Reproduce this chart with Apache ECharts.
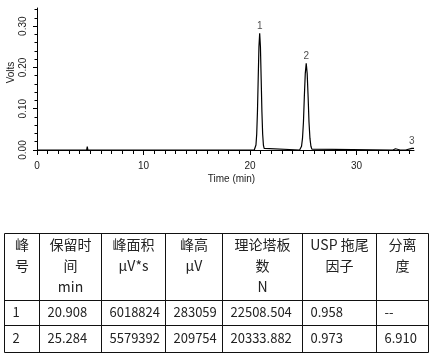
<!DOCTYPE html>
<html><head><meta charset="utf-8">
<script src="https://cdn.jsdelivr.net/npm/echarts@6/dist/echarts.min.js"></script>
<style>html,body{margin:0;padding:0;background:#fff}#c{width:433px;height:358px}</style>
</head><body><div id="c"></div>
<script>
// ---- chromatogram data ----
const traceTime = [0, 2.78, 2.85, 2.92, 4.66, 4.72, 4.78, 9.64, 9.7, 9.76,
  20.4, 20.49, 20.56, 20.63, 20.70, 20.77, 20.84, 20.91, 20.98, 21.05, 21.12, 21.19, 21.26, 21.33, 21.42,
  24.66, 24.75, 24.84, 24.93, 25.02, 25.1, 25.19, 25.28, 25.37, 25.46, 25.54, 25.63, 25.72, 25.81, 25.92,
  33.42, 33.5, 33.58, 33.66, 33.74, 33.82, 34.1, 34.16, 34.22, 34.62, 34.8, 35.2, 35.4];
const traceVolts = [0, 0, 0.002, 0, 0, 0.008, 0, 0, 0.003, 0,
  0, 0.003, 0.012, 0.038, 0.092, 0.172, 0.250, 0.283, 0.250, 0.172, 0.092, 0.038, 0.012, 0.004, 0,
  0, 0.002, 0.009, 0.028, 0.068, 0.127, 0.185, 0.210, 0.185, 0.127, 0.068, 0.028, 0.009, 0.002, 0,
  0, 0.004, 0, 0.003, 0, 0, 0, 0.002, 0, 0, 0.003, 0.004, 0.004];
const peakNames = ['1', '2', '3'];
const peakTimes = [20.91, 25.28, 35.2];
const peakVolts = [0.283, 0.210, 0.004];

const xMajorTicks = [0, 10, 20, 30];
const xMinorTicks = [1,2,3,4,5,6,7,8,9,11,12,13,14,15,16,17,18,19,21,22,23,24,25,26,27,28,29,31,32,33,34,35];
const yMajorTicks = [0, 0.1, 0.2, 0.3];
const yMinorTicks = [0.02,0.04,0.06,0.08,0.12,0.14,0.16,0.18,0.22,0.24,0.26,0.28,0.32,0.34];
const xMax = 35.4;
const yMax = 0.344;

// ---- table data ----
const tableHeaders = [['峰','号'], ['保留时','间','min'], ['峰面积','µV*s'], ['峰高','µV'], ['理论塔板','数','N'], ['USP 拖尾','因子'], ['分离','度']];
const colPeakNo = ['1', '2'];
const colRetention = ['20.908', '25.284'];
const colArea = ['6018824', '5579392'];
const colHeight = ['283059', '209754'];
const colPlates = ['22508.504', '20333.882'];
const colTailing = ['0.958', '0.973'];
const colResolution = ['--', '6.910'];

// ---- layout ----
const colX = [4.5, 39.5, 101.5, 165.5, 222.5, 302.5, 376.5, 428.5];
const rowY = [233.5, 300.5, 325.5, 352.5];
const rowCenters = [312.5, 338];
const cjk = '"Noto Sans CJK SC", "Noto Sans", sans-serif';
const lat = '"Liberation Sans", Arial, sans-serif';

const graphics = [];
rowY.forEach(y => graphics.push({type:'line', silent:true, shape:{x1:colX[0], y1:y, x2:colX[colX.length-1], y2:y}, style:{stroke:'#111', lineWidth:1}}));
colX.forEach(x => graphics.push({type:'line', silent:true, shape:{x1:x, y1:rowY[0], x2:x, y2:rowY[rowY.length-1]}, style:{stroke:'#111', lineWidth:1}}));
tableHeaders.forEach((h, i) => graphics.push({type:'text', silent:true,
  style:{text:h.join('\n'), x:(colX[i]+colX[i+1])/2, y:234.5, align:'center', verticalAlign:'top', textAlign:'center', textVerticalAlign:'top',
    lineHeight:21, font:'14px ' + cjk, fill:'#222'}}));
const cols = [colPeakNo, colRetention, colArea, colHeight, colPlates, colTailing, colResolution];
cols.forEach((col, c) => col.forEach((v, r) => graphics.push({type:'text', silent:true,
  style:{text:v, x:colX[c]+8, y:rowCenters[r], align:'left', verticalAlign:'middle', textAlign:'left', textVerticalAlign:'middle',
    font:'13px ' + cjk, fill:'#222'}})));

const chart = echarts.init(document.getElementById('c'), null, {renderer:'canvas'});
chart.setOption({
  animation: false,
  backgroundColor: '#fff',
  grid: {left: 37, top: 8, width: 377, height: 142, outerBoundsMode: 'none', containLabel: false},
  xAxis: [
    {type:'value', min:0, max:xMax, position:'bottom',
     axisLine:{lineStyle:{color:'#000', width:1}},
     axisTick:{customValues:xMajorTicks, length:5, lineStyle:{color:'#000'}},
     axisLabel:{customValues:xMajorTicks, margin:11, fontSize:10, color:'#222', fontFamily:lat},
     splitLine:{show:false},
     name:'Time (min)', nameLocation:'middle', nameGap:24, nameMoveOverlap:false,
     nameTextStyle:{fontSize:10, color:'#222', fontFamily:lat, padding:[0,0,0,12]}},
    {type:'value', min:0, max:xMax, position:'bottom',
     axisLine:{show:false},
     axisTick:{customValues:xMinorTicks, length:4, lineStyle:{color:'#000'}},
     axisLabel:{show:false}, splitLine:{show:false}}
  ],
  yAxis: [
    {type:'value', min:0, max:yMax, position:'left',
     axisLine:{show:true, lineStyle:{color:'#000', width:1}},
     axisTick:{show:true, customValues:yMajorTicks, length:4, lineStyle:{color:'#000'}},
     axisLabel:{customValues:yMajorTicks, rotate:90, margin:9, fontSize:10, color:'#222', fontFamily:lat,
       formatter: v => v.toFixed(2)},
     splitLine:{show:false},
     name:'Volts', nameLocation:'middle', nameGap:21, nameMoveOverlap:false,
     nameTextStyle:{fontSize:10, color:'#222', fontFamily:lat, padding:[0,0,0,13]}},
    {type:'value', min:0, max:yMax, position:'left',
     axisLine:{show:false},
     axisTick:{show:true, customValues:yMinorTicks, length:2.5, lineStyle:{color:'#000'}},
     axisLabel:{show:false}, splitLine:{show:false}}
  ],
  series: [
    {type:'line', xAxisIndex:0, yAxisIndex:0, showSymbol:false, symbol:'none',
     data: traceTime.map((t, i) => [t, traceVolts[i]]),
     lineStyle:{color:'#000', width:1.2}, z:3},
    {type:'scatter', xAxisIndex:0, yAxisIndex:0, symbolSize:2,
     data: peakTimes.map((t, i) => [t, peakVolts[i]]),
     itemStyle:{color:'rgba(0,0,0,0)'},
     label:{show:true, position:'top', distance:1, fontSize:10, color:'#222', fontFamily:lat,
       formatter: p => peakNames[p.dataIndex]}}
  ],
  graphic: {elements: graphics}
});
</script></body></html>
